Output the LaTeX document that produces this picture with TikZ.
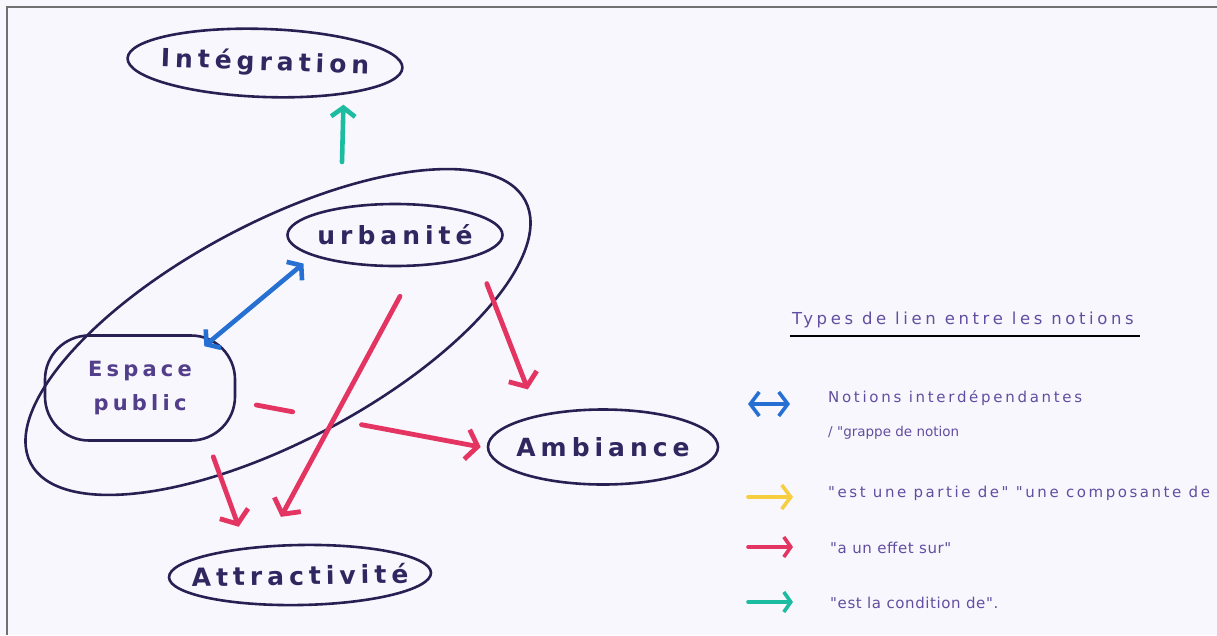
\documentclass[tikz,border=0pt]{standalone}
\usepackage{fontspec}
\setmainfont{DejaVu Sans}
\newfontfamily\handfont[LetterSpace=20]{DejaVu Sans Bold}
\newfontfamily\notefont[LetterSpace=4]{DejaVu Sans}
\usetikzlibrary{shapes.geometric,arrows.meta,calc}

\definecolor{ink}{RGB}{40,32,82}
\definecolor{labelink}{RGB}{48,38,96}
\definecolor{publicink}{RGB}{82,62,138}
\definecolor{penred}{RGB}{228,52,98}
\definecolor{penblue}{RGB}{38,112,212}
\definecolor{penteal}{RGB}{28,188,160}
\definecolor{penyellow}{RGB}{246,206,64}
\definecolor{notecol}{RGB}{98,78,160}
\definecolor{paper}{RGB}{248,247,253}
\definecolor{frame}{RGB}{112,112,112}

\tikzset{
  concept/.style={ellipse, draw=ink, line width=2.6pt, inner xsep=-40pt, inner ysep=0pt,
    text=labelink, font=\handfont\fontsize{25}{28}\selectfont},
  effect/.style={draw=penred, line width=4.8pt, line cap=round,
    -{Straight Barb[length=11pt,width=30pt]}},
  linkboth/.style={draw=penblue, line width=4.6pt,
    {Straight Barb[length=9pt,width=24pt]}-{Straight Barb[length=9pt,width=24pt]}},
  condition/.style={draw=penteal, line width=4.6pt, line cap=round,
    -{Straight Barb[length=9pt,width=24pt]}},
  partof/.style={draw=penyellow, line width=4.6pt, line cap=round,
    -{Straight Barb[length=9pt,width=24pt]}},
  note/.style={anchor=west, inner sep=0pt, text=notecol, font=\notefont\fontsize{15}{18}\selectfont}
}

\begin{document}
\begin{tikzpicture}[x=1pt,y=-1pt]
  % sheet and scan frame
  \fill[paper] (0,0) rectangle (1217,635);
  \useasboundingbox (0,0) rectangle (1217,635);
  \draw[frame, line width=2pt] (7,635) -- (7,7) -- (1217,7);

  % notions
  \node[concept, minimum width=275pt, minimum height=68pt, rotate=-2] (integ) at (265,63) {Intégration};
  \node[concept, minimum width=215pt, minimum height=62pt] (urb) at (395,235) {urbanité};
  \node[draw=ink, line width=2.6pt, rectangle, rounded corners=44pt,
        minimum width=190pt, minimum height=105pt, inner sep=0pt, align=center,
        text=publicink, font=\handfont\fontsize{21}{34}\selectfont] (ep) at (140,388) {Espace\\public};
  \node[concept, minimum width=230pt, minimum height=75pt] (amb) at (603,447) {Ambiance};
  \node[concept, minimum width=262pt, minimum height=60pt, rotate=1] (att) at (300,575) {Attractivité};

  % group of interdependent notions
  \node[draw=ink, line width=2.6pt, ellipse, minimum width=560pt, minimum height=218pt,
        rotate=28, inner sep=0pt] (grp) at (278,332) {};

  % links between notions
  \draw[linkboth] ([shift={(2,12)}]urb.-170) -- ([shift={(-32,12)}]ep.north east);
  \draw[effect] ([shift={(11,27)}]urb.-15) -- ([shift={(-17,-24)}]amb.150);
  \draw[effect] ([shift={(5,29)}]urb.-90) -- ([shift={(-13,-27)}]att.100);
  \draw[effect] ([shift={(-23,15)}]ep.south east) -- ([shift={(-35,-18)}]att.130);
  \draw[effect, dash pattern=on 37pt off 70pt on 400pt] ([shift={(20,17)}]ep.east) -- ([shift={(-6,0)}]amb.west);
  \coordinate (tealfoot) at (342,162);
  \draw[condition] (tealfoot) -- ([shift={(0,10)}]integ.-20);

  % key
  \node[note, font=\notefont\fontsize{16.5}{18}\selectfont\addfontfeature{LetterSpace=22}] (keytitle) at (792,320) {Types de lien entre les notions};
  \coordinate (ulA) at (790,336);
  \coordinate (ulB) at (1140,336);
  \draw[black, line width=1.4pt] (ulA) -- (ulB);

  \node[note, font=\notefont\fontsize{15}{18}\selectfont\addfontfeature{LetterSpace=18}] (k1) at (828,398) {Notions interdépendantes};
  \node[note, font=\notefont\fontsize{13.5}{18}\selectfont\addfontfeature{LetterSpace=0}] (k1b) at (828,433) {/ "grappe de notion};
  \node[note, font=\notefont\fontsize{15}{18}\selectfont\addfontfeature{LetterSpace=17}] (k2) at (828,493) {"est une partie de" "une composante de};
  \node[note] (k3) at (830,548) {"a un effet sur"};
  \node[note] (k4) at (830,603) {"est la condition de".};

  \coordinate (a1) at (748,404); \coordinate (b1) at (790,404);
  \coordinate (a2) at (748,497); \coordinate (b2) at (793,497);
  \coordinate (a3) at (748,547); \coordinate (b3) at (793,547);
  \coordinate (a4) at (748,602); \coordinate (b4) at (793,602);
  \draw[linkboth, line width=3.6pt] (a1) -- (b1);
  \draw[partof, line width=3.6pt] (a2) -- (b2);
  \draw[effect, line width=3.6pt, -{Straight Barb[length=7pt,width=20pt]}] (a3) -- (b3);
  \draw[condition, line width=3.6pt, -{Straight Barb[length=7pt,width=20pt]}] (a4) -- (b4);
\end{tikzpicture}
\end{document}
